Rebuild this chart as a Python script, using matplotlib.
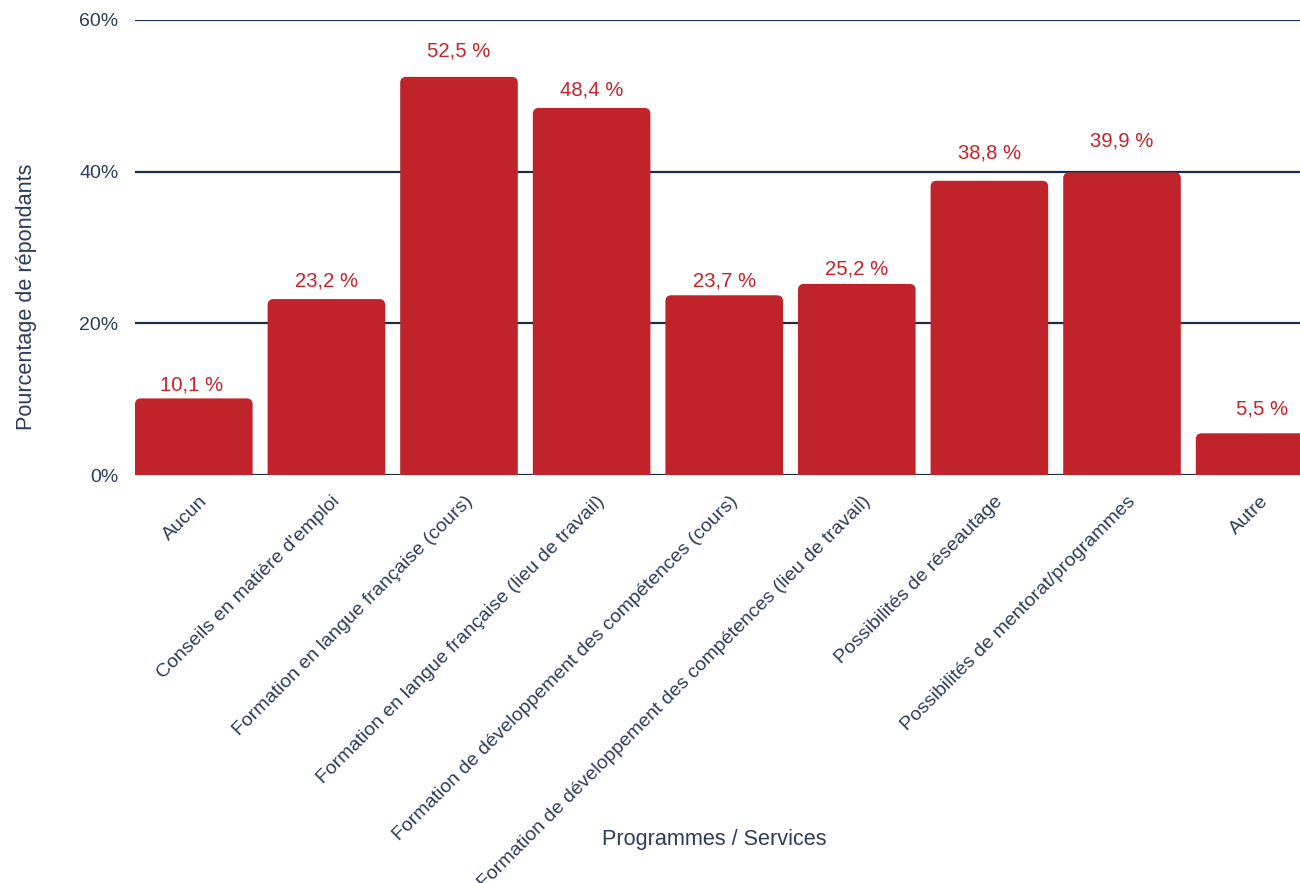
import matplotlib
matplotlib.use("Agg")
import matplotlib.pyplot as plt
from matplotlib.path import Path
from matplotlib.patches import PathPatch
from matplotlib.transforms import ScaledTranslation

categories = [
    "Aucun",
    "Conseils en matière d'emploi",
    "Formation en langue française (cours)",
    "Formation en langue française (lieu de travail)",
    "Formation de développement des compétences (cours)",
    "Formation de développement des compétences (lieu de travail)",
    "Possibilités de réseautage",
    "Possibilités de mentorat/programmes",
    "Autre",
]
values = [10.1, 23.2, 52.5, 48.4, 23.7, 25.2, 38.8, 39.9, 5.5]
y_ticks = [0, 20, 40, 60]
y_tick_labels = ["0%", "20%", "40%", "60%"]

# Placement of each value label relative to its bar top (pixels)
label_dy = [13.5, 18.5, 26, 17.5, 14.5, 15, 27.5, 31.5, 24]
label_dx = [-2, 0, 0, 0, 0, 0, 0, 0, 7]

BAR_COLOR = "#C0242A"
LABEL_COLOR = "#C4232B"
TEXT_COLOR = "#2B3D5B"
GRID_COLOR = "#1C2D4B"
FONT = ["Liberation Sans", "DejaVu Sans"]

W, H, DPI = 1300, 883, 100
fig = plt.figure(figsize=(W / DPI, H / DPI), dpi=DPI)
fig.patch.set_facecolor("white")

ax_left, ax_right, ax_top, ax_bottom = 135, 1300, 20, 475
ax = fig.add_axes([ax_left / W, (H - ax_bottom) / H,
                   (ax_right - ax_left) / W, (ax_bottom - ax_top) / H])

step_px = 132.6
bar_w = 117.6 / step_px
x = list(range(len(categories)))
x0 = -bar_w / 2
ax.set_xlim(x0, x0 + (ax_right - ax_left) / step_px)
ax.set_ylim(0, 60)

bars = ax.bar(x, values, width=bar_w, color=BAR_COLOR, zorder=3)

# Replace each rectangle with a version whose top corners are rounded
px_x = step_px
px_y = (ax_bottom - ax_top) / 60.0
r_px = 6
rx, ry = r_px / px_x, r_px / px_y
for rect in bars:
    bx, bw, bh = rect.get_x(), rect.get_width(), rect.get_height()
    r_y = min(ry, bh / 2)
    verts = [
        (bx, 0), (bx, bh - r_y), (bx, bh), (bx + rx, bh),
        (bx + bw - rx, bh), (bx + bw, bh), (bx + bw, bh - r_y),
        (bx + bw, 0), (bx, 0),
    ]
    codes = [Path.MOVETO, Path.LINETO, Path.CURVE3, Path.CURVE3,
             Path.LINETO, Path.CURVE3, Path.CURVE3, Path.LINETO, Path.CLOSEPOLY]
    ax.add_patch(PathPatch(Path(verts, codes), facecolor=BAR_COLOR,
                           edgecolor="none", zorder=3))
    rect.set_visible(False)

# Value labels above bars
for xi, v, dx, dy in zip(x, values, label_dx, label_dy):
    ax.annotate(f"{v:.1f}".replace(".", ",") + " %", (xi, v),
                xytext=(dx, dy), textcoords="offset pixels",
                ha="center", va="center", fontsize=14.6, fontweight="normal",
                color=LABEL_COLOR, family=FONT, zorder=4)

# Grid and axes styling
ax.set_yticks(y_ticks)
ax.set_yticklabels(y_tick_labels, family=FONT, fontsize=14, color=TEXT_COLOR)
ax.tick_params(axis="y", length=0, pad=12)
ax.yaxis.grid(True, color=GRID_COLOR, linewidth=1.6, zorder=1)
ax.set_axisbelow(True)
ax.set_xticks([])
for s in ax.spines.values():
    s.set_visible(False)

# Rotated category labels
offset = ScaledTranslation(11 / DPI, -24 / DPI, fig.dpi_scale_trans)
trans = ax.get_xaxis_transform() + offset
for xi, lab in zip(x, categories):
    ax.text(xi, 0, lab, transform=trans, rotation=45, rotation_mode="anchor",
            ha="right", va="center", fontsize=14, color=TEXT_COLOR,
            family=FONT, clip_on=False)

fig.text(714 / W, 1 - 840 / H, "Programmes / Services", ha="center", va="center",
         fontsize=15.6, color=TEXT_COLOR, family=FONT)
fig.text(27 / W, 1 - 297 / H, "Pourcentage de répondants", ha="center", va="center",
         rotation=90, fontsize=15.6, color=TEXT_COLOR, family=FONT)

fig.savefig("out.png", dpi=DPI, facecolor="white")
